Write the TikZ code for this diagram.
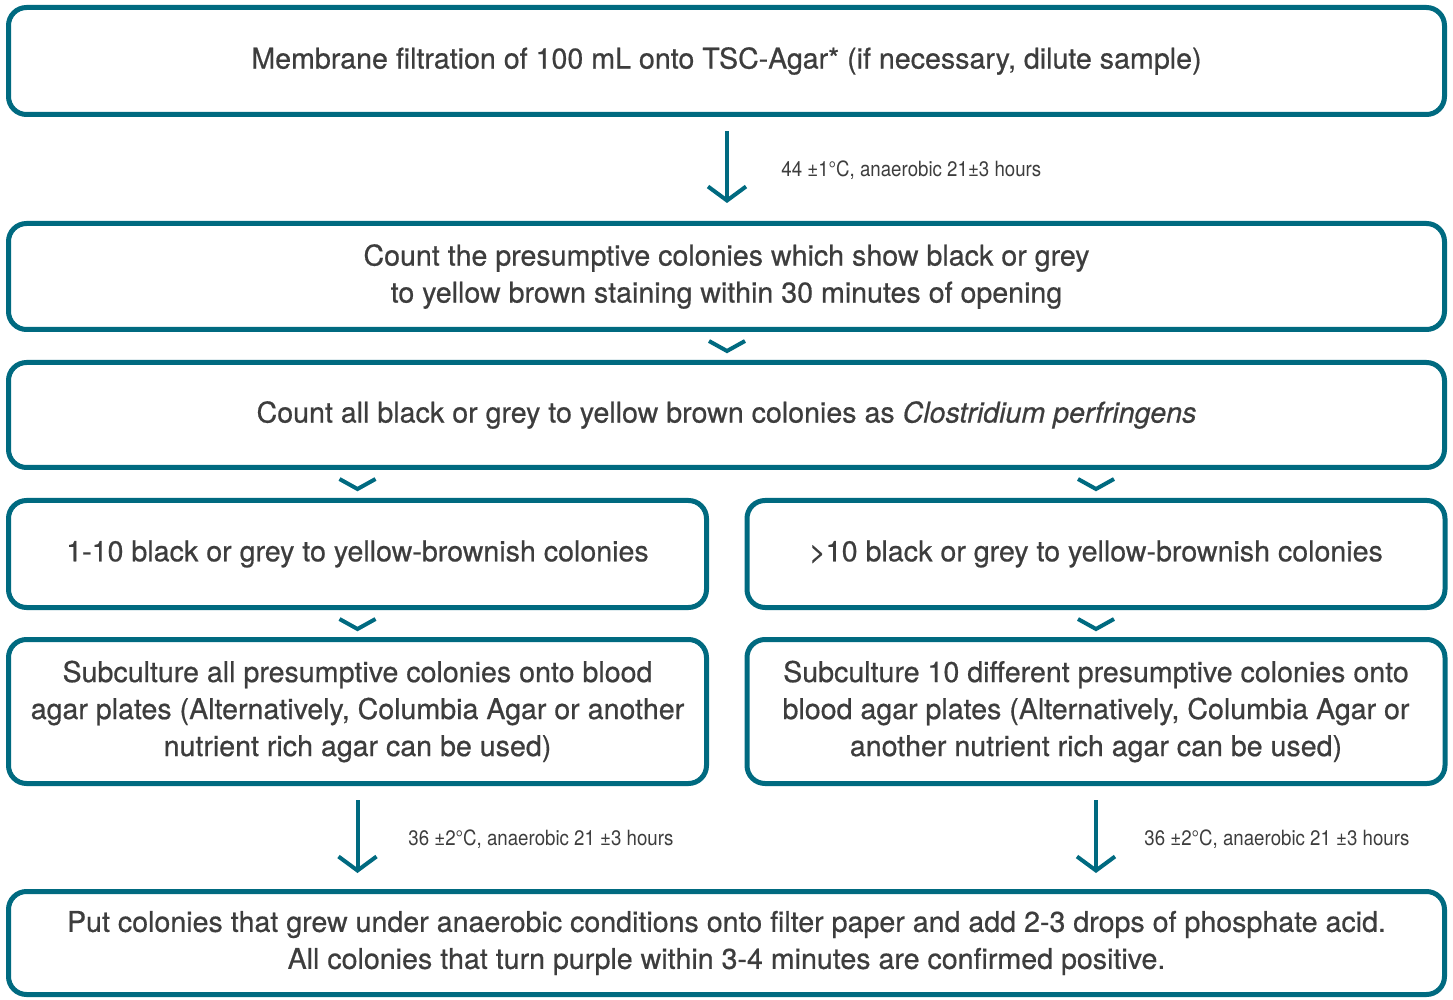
\documentclass[tikz,border=0pt]{standalone}
\usepackage{fontspec}
\setmainfont{TeX Gyre Heros}[FakeBold=0.6]
\newfontfamily\condfont{TeX Gyre Heros}[FakeStretch=0.89]
\usetikzlibrary{calc,arrows.meta}
\definecolor{teal}{HTML}{006A80}
\definecolor{txt}{HTML}{3D3D3D}
\tikzset{
  box/.style={draw=teal, line width=2.5pt, rounded corners=9pt, align=center,
    text=txt, font=\fontsize{14.3pt}{18.5pt}\selectfont, inner sep=0pt},
  wide/.style={minimum width=718pt},
  half/.style={minimum width=349pt},
  flowarrow/.style={draw=teal, line width=2pt, -{Straight Barb[length=7pt,width=19pt]}},
  chev/.style={draw=teal, line width=2pt},
  lbl/.style={text=txt, font=\condfont\fontsize{10.5pt}{12pt}\selectfont, anchor=west, inner sep=0pt}
}
\begin{document}
\begin{tikzpicture}[x=0.5pt,y=-0.5pt]
\useasboundingbox (0,0) rectangle (1453,1000);
\node[box,wide,minimum height=53.5pt] (b1) at (726.5,61) {Membrane filtration of 100 mL onto TSC-Agar* (if necessary, dilute sample)};
\node[box,wide,minimum height=53pt] (b2) at (726.5,276.5) {Count the presumptive colonies which show black or grey\\to yellow brown staining within 30 minutes of opening};
\node[box,wide,minimum height=52.5pt] (b3) at (726.5,415) {Count all black or grey to yellow brown colonies as \textit{Clostridium perfringens}};
\node[box,half,minimum height=53.5pt] (b4l) at (357.5,554) {1-10 black or grey to yellow-brownish colonies};
\node[box,half,minimum height=53.5pt] (b4r) at (1096,554) {>10 black or grey to yellow-brownish colonies};
\node[box,half,minimum height=72pt] (b5l) at (357.5,711.5) {Subculture all presumptive colonies onto blood\\agar plates (Alternatively, Columbia Agar or another\\nutrient rich agar can be used)};
\node[box,half,minimum height=72pt] (b5r) at (1096,711.5) {Subculture 10 different presumptive colonies onto\\blood agar plates (Alternatively, Columbia Agar or\\another nutrient rich agar can be used)};
\node[box,wide,minimum height=51.5pt] (b6) at (726.5,943) {Put colonies that grew under anaerobic conditions onto filter paper and add 2-3 drops of phosphate acid.\\All colonies that turn purple within 3-4 minutes are confirmed positive.};

% long arrows
\draw[flowarrow, shorten <=7pt, shorten >=9pt] (b1.south -| 727,0) -- (b2.north -| 727,0);
\draw[flowarrow, shorten <=7pt, shorten >=8pt] (b5l.south) -- (b6.north -| b5l.south);
\draw[flowarrow, shorten <=7pt, shorten >=8pt] (b5r.south) -- (b6.north -| b5r.south);

% labels
\node[lbl] (l1) at (781,170) {44 ±1°C, anaerobic 21±3 hours};
\node[lbl] (l2) at (408,839) {36 ±2°C, anaerobic 21 ±3 hours};
\node[lbl] (l3) at (1144,839) {36 ±2°C, anaerobic 21 ±3 hours};

% chevrons
\coordinate (c1) at ($(b2.south -| 727,0)+(0,19)$);
\coordinate (c2) at ($(b3.south -| b4l.north)+(0,19)$);
\coordinate (c3) at ($(b3.south -| b4r.north)+(0,19)$);
\coordinate (c4) at ($(b4l.south)+(0,19)$);
\coordinate (c5) at ($(b4r.south)+(0,19)$);
\foreach \c in {c1,c2,c3,c4,c5}{
  \draw[chev] ($(\c)+(-18,-10)$) -- (\c) -- ($(\c)+(18,-10)$);
}
\end{tikzpicture}
\end{document}
